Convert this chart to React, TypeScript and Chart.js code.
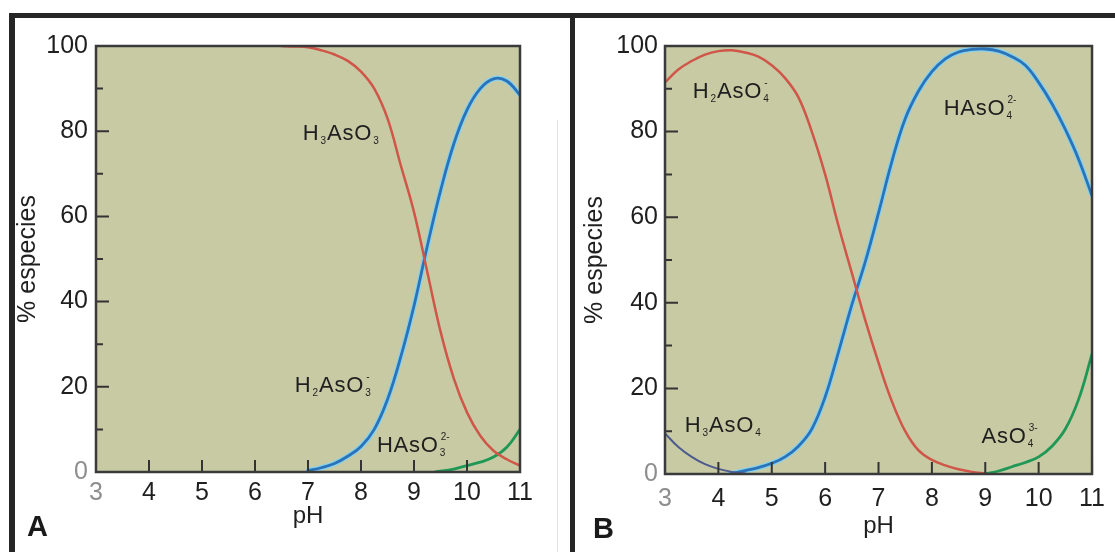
import React, { useEffect, useRef } from "react";
import { Chart, registerables } from "chart.js";

Chart.register(...registerables);

// ---------- axes ----------
const PH_TICKS = [3, 4, 5, 6, 7, 8, 9, 10, 11];
const PCT_TICKS = [0, 20, 40, 60, 80, 100];
const PCT_MINOR = [10, 30, 50, 70, 90];

// ---------- Panel A : As(III) species ----------
const phA_H3AsO3 = [6.5, 6.75, 7, 7.25, 7.5, 7.75, 8, 8.25, 8.5, 8.75, 9, 9.25, 9.5, 9.75, 10, 10.25, 10.5, 10.75, 11];
const pctA_H3AsO3 = [100, 99.9, 99.7, 99, 98, 96.5, 94, 90, 83, 72, 61, 47, 33, 22, 14, 8.5, 5, 3, 1.5];

const phA_H2AsO3 = [7, 7.25, 7.5, 7.75, 8, 8.25, 8.5, 8.75, 9, 9.25, 9.5, 9.75, 10, 10.25, 10.5, 10.75, 11];
const pctA_H2AsO3 = [0.3, 1, 2, 3.7, 6, 10, 17, 27, 39, 53, 66, 77, 85, 90, 92.3, 91.8, 88.5];

const phA_HAsO3 = [9.4, 9.75, 10, 10.25, 10.5, 10.75, 11];
const pctA_HAsO3 = [0, 0.7, 1.5, 2.3, 3.5, 5.8, 10];

// ---------- Panel B : As(V) species ----------
const phB_H3AsO4 = [3, 3.25, 3.5, 3.75, 4, 4.25, 4.5];
const pctB_H3AsO4 = [9.5, 6.3, 4, 2.3, 1.2, 0.5, 0.1];

const phB_H2AsO4 = [3, 3.25, 3.5, 3.75, 4, 4.25, 4.5, 4.75, 5, 5.25, 5.5, 5.75, 6, 6.25, 6.5, 6.75, 7, 7.25, 7.5, 7.75, 8, 8.25, 8.5, 8.75, 9];
const pctB_H2AsO4 = [91.5, 94.5, 96.5, 98, 98.8, 99, 98.5, 97.5, 95.5, 92.5, 88, 80, 70, 58, 47, 36, 26, 17, 10, 5.5, 3.3, 2, 1.1, 0.5, 0.1];

const phB_HAsO4 = [4.2, 4.5, 4.75, 5, 5.25, 5.5, 5.75, 6, 6.25, 6.5, 6.75, 7, 7.25, 7.5, 7.75, 8, 8.25, 8.5, 8.75, 9, 9.25, 9.5, 9.75, 10, 10.25, 10.5, 10.75, 11];
const pctB_HAsO4 = [0, 0.8, 1.5, 2.5, 4, 6.5, 10.5, 18, 28.5, 39.5, 49.5, 61, 73, 83, 89.5, 94, 97, 98.6, 99.2, 99.3, 98.8, 97.5, 95.5, 91.5, 86.5, 80.5, 73.5, 65];

const phB_AsO4 = [9, 9.25, 9.5, 9.75, 10, 10.25, 10.5, 10.75, 11];
const pctB_AsO4 = [0, 0.7, 1.7, 2.7, 4, 6.5, 10.5, 17.5, 28];

// ---------- species labels (anchor in pH / % units) ----------
type Part = { t?: string; sub?: string; sup?: string };
const labelsA: { parts: Part[]; ph: number; pct: number }[] = [
  { parts: [{ t: "H" }, { sub: "3" }, { t: "AsO" }, { sub: "3" }], ph: 6.9, pct: 78 },
  { parts: [{ t: "H" }, { sub: "2" }, { t: "AsO" }, { sub: "3", sup: "-" }], ph: 6.75, pct: 18.8 },
  { parts: [{ t: "HAsO" }, { sub: "3", sup: "2-" }], ph: 8.3, pct: 4.7 },
];
const labelsB: { parts: Part[]; ph: number; pct: number }[] = [
  { parts: [{ t: "H" }, { sub: "2" }, { t: "AsO" }, { sub: "4", sup: "-" }], ph: 3.52, pct: 87.9 },
  { parts: [{ t: "HAsO" }, { sub: "4", sup: "2-" }], ph: 8.22, pct: 83.9 },
  { parts: [{ t: "H" }, { sub: "3" }, { t: "AsO" }, { sub: "4" }], ph: 3.37, pct: 9.8 },
  { parts: [{ t: "AsO" }, { sub: "4", sup: "3-" }], ph: 8.93, pct: 7.2 },
];

const FONT = "'Liberation Sans', Arial, Helvetica, sans-serif";
const RED = "#cf5648";
const BLUE = "#2b72b6";
const BLUE_HALO = "#86d2ee";
const GREEN = "#1f9856";
const PURPLE = "#4d5a8e";
const BG = "#c8caa4";
const INK = "#1f1f1f";

type Series = { ph: number[]; pct: number[]; color: string; width: number; halo?: string };

const zip = (xs: number[], ys: number[]) => xs.map((x, i) => ({ x, y: ys[i] }));

function buildDatasets(series: Series[]) {
  const out: any[] = [];
  series.forEach((s) => {
    const base = {
      data: zip(s.ph, s.pct),
      pointRadius: 0,
      fill: false,
      tension: 0.4,
      cubicInterpolationMode: "default",
      borderCapStyle: "round",
      borderJoinStyle: "round",
    };
    if (s.halo) {
      out.push({ ...base, borderColor: s.halo, borderWidth: s.width + 2.5, order: 5 });
    }
    out.push({ ...base, borderColor: s.color, borderWidth: s.width, order: 1 });
  });
  return out;
}

function drawFormula(ctx: CanvasRenderingContext2D, x: number, y: number, parts: Part[]) {
  let cx = x;
  ctx.fillStyle = INK;
  ctx.textBaseline = "alphabetic";
  ctx.textAlign = "left";
  for (const p of parts) {
    if (p.t) {
      ctx.font = `22px ${FONT}`;
      (ctx as any).letterSpacing = "0.8px";
      ctx.fillText(p.t, cx, y);
      cx += ctx.measureText(p.t).width;
    } else {
      ctx.font = `10px ${FONT}`;
      (ctx as any).letterSpacing = "0px";
      let w = 0;
      if (p.sub) {
        ctx.fillText(p.sub, cx + 1, y + 4);
        w = Math.max(w, ctx.measureText(p.sub).width);
      }
      if (p.sup) {
        ctx.fillText(p.sup, cx + 2, y - 12);
        w = Math.max(w, ctx.measureText(p.sup).width + 1);
      }
      cx += w + 2;
    }
  }
  (ctx as any).letterSpacing = "0px";
}

type PanelCfg = {
  left: number;
  top: number;
  w: number;
  h: number;
  yWidth: number;
  xHeight: number;
  padRight: number;
  padTop: number;
  yTitlePad: number;
  yTickPad: number;
  xTickPad: number;
  xTitlePad: number;
  series: Series[];
  labels: { parts: Part[]; ph: number; pct: number }[];
};

function Panel({ cfg }: { cfg: PanelCfg }) {
  const ref = useRef<HTMLCanvasElement>(null);
  useEffect(() => {
    const bgPlugin = {
      id: "bg",
      beforeDraw(chart: any) {
        const { ctx, chartArea: a } = chart;
        ctx.save();
        ctx.fillStyle = BG;
        ctx.fillRect(a.left, a.top, a.right - a.left, a.bottom - a.top);
        ctx.restore();
      },
    };
    const frame = {
      id: "frame",
      afterDraw(chart: any) {
        const { ctx, chartArea: a } = chart;
        const xs = chart.scales.x;
        const ys = chart.scales.y;
        ctx.save();
        ctx.strokeStyle = "#333333";
        ctx.lineWidth = 2;
        ctx.beginPath();
        PH_TICKS.forEach((v) => {
          const px = xs.getPixelForValue(v);
          ctx.moveTo(px, a.bottom);
          ctx.lineTo(px, a.bottom - 12);
        });
        PCT_TICKS.forEach((v) => {
          const py = ys.getPixelForValue(v);
          ctx.moveTo(a.left, py);
          ctx.lineTo(a.left + 13, py);
        });
        PCT_MINOR.forEach((v) => {
          const py = ys.getPixelForValue(v);
          ctx.moveTo(a.left, py);
          ctx.lineTo(a.left + 7, py);
        });
        ctx.stroke();
        ctx.strokeStyle = "#3a3a3a";
        ctx.lineWidth = 2.5;
        ctx.strokeRect(a.left, a.top, a.right - a.left, a.bottom - a.top);
        cfg.labels.forEach((l) => {
          drawFormula(ctx, xs.getPixelForValue(l.ph), ys.getPixelForValue(l.pct), l.parts);
        });
        ctx.restore();
      },
    };
    const chart = new Chart(ref.current as HTMLCanvasElement, {
      type: "line",
      data: { datasets: buildDatasets(cfg.series) },
      options: {
        animation: false,
        responsive: false,
        maintainAspectRatio: false,
        layout: { padding: { top: cfg.padTop, right: cfg.padRight, left: 0, bottom: 0 } },
        plugins: { legend: { display: false }, tooltip: { enabled: false } },
        scales: {
          x: {
            type: "linear",
            min: 3,
            max: 11,
            afterBuildTicks: (s: any) => {
              s.ticks = PH_TICKS.map((v) => ({ value: v }));
            },
            afterFit: (s: any) => {
              s.height = cfg.xHeight;
            },
            grid: { display: false, drawTicks: false },
            border: { display: false },
            ticks: {
              autoSkip: false,
              maxRotation: 0,
              padding: cfg.xTickPad,
              font: { family: FONT, size: 25 },
              color: (c: any) => (c.tick && c.tick.value === 3 ? "#8e8e8e" : INK),
            },
            title: {
              display: true,
              text: "pH",
              color: INK,
              font: { family: FONT, size: 24, lineHeight: 1 },
              padding: { top: 0, bottom: cfg.xTitlePad },
            },
          },
          y: {
            type: "linear",
            min: 0,
            max: 100,
            afterBuildTicks: (s: any) => {
              s.ticks = PCT_TICKS.map((v) => ({ value: v }));
            },
            afterFit: (s: any) => {
              s.width = cfg.yWidth;
            },
            grid: { display: false, drawTicks: false },
            border: { display: false },
            ticks: {
              padding: cfg.yTickPad,
              font: { family: FONT, size: 25 },
              color: (c: any) => (c.tick && c.tick.value === 0 ? "#8e8e8e" : INK),
            },
            title: {
              display: true,
              text: "% especies",
              color: INK,
              font: { family: FONT, size: 25, lineHeight: 1 },
              padding: { top: cfg.yTitlePad, bottom: 0 },
            },
          },
        },
      } as any,
      plugins: [bgPlugin, frame],
    });
    return () => chart.destroy();
  }, []);
  return (
    <canvas
      ref={ref}
      width={cfg.w}
      height={cfg.h}
      style={{ position: "absolute", left: cfg.left, top: cfg.top, width: cfg.w, height: cfg.h }}
    />
  );
}

const panelA: PanelCfg = {
  left: 15,
  top: 18,
  w: 555,
  h: 534,
  yWidth: 81,
  xHeight: 80,
  padRight: 50,
  padTop: 28,
  yTitlePad: 1,
  yTickPad: 8,
  xTickPad: 6,
  xTitlePad: 24,
  series: [
    { ph: phA_H3AsO3, pct: pctA_H3AsO3, color: RED, width: 2.5 },
    { ph: phA_H2AsO3, pct: pctA_H2AsO3, color: BLUE, width: 2.8, halo: BLUE_HALO },
    { ph: phA_HAsO3, pct: pctA_HAsO3, color: GREEN, width: 2.8 },
  ],
  labels: labelsA,
};

const panelB: PanelCfg = {
  left: 575,
  top: 18,
  w: 540,
  h: 534,
  yWidth: 90,
  xHeight: 78,
  padRight: 21,
  padTop: 28,
  yTitlePad: 8,
  yTickPad: 7,
  xTickPad: 10,
  xTitlePad: 14,
  series: [
    { ph: phB_H3AsO4, pct: pctB_H3AsO4, color: PURPLE, width: 2 },
    { ph: phB_H2AsO4, pct: pctB_H2AsO4, color: RED, width: 2.5 },
    { ph: phB_HAsO4, pct: pctB_HAsO4, color: BLUE, width: 2.8, halo: BLUE_HALO },
    { ph: phB_AsO4, pct: pctB_AsO4, color: GREEN, width: 2.8 },
  ],
  labels: labelsB,
};

export default function App() {
  useEffect(() => {
    document.body.style.margin = "0";
  }, []);
  const bar = "#262626";
  return (
    <div style={{ position: "relative", width: 1115, height: 552, background: "#ffffff", overflow: "hidden" }}>
      <div style={{ position: "absolute", left: 9, top: 13, width: 1106, height: 5, background: bar }} />
      <div style={{ position: "absolute", left: 9, top: 13, width: 6, height: 539, background: bar }} />
      <div style={{ position: "absolute", left: 570, top: 13, width: 5, height: 539, background: bar }} />
      <div style={{ position: "absolute", left: 557, top: 120, width: 1, height: 432, background: "#e2e2e2" }} />
      <Panel cfg={panelA} />
      <Panel cfg={panelB} />
      <div
        style={{
          position: "absolute",
          left: 27,
          top: 510,
          fontFamily: FONT,
          fontWeight: "bold",
          fontSize: 29,
          lineHeight: "32px",
          color: "#1a1a1a",
        }}
      >
        A
      </div>
      <div
        style={{
          position: "absolute",
          left: 593,
          top: 512,
          fontFamily: FONT,
          fontWeight: "bold",
          fontSize: 29,
          lineHeight: "32px",
          color: "#1a1a1a",
        }}
      >
        B
      </div>
    </div>
  );
}
